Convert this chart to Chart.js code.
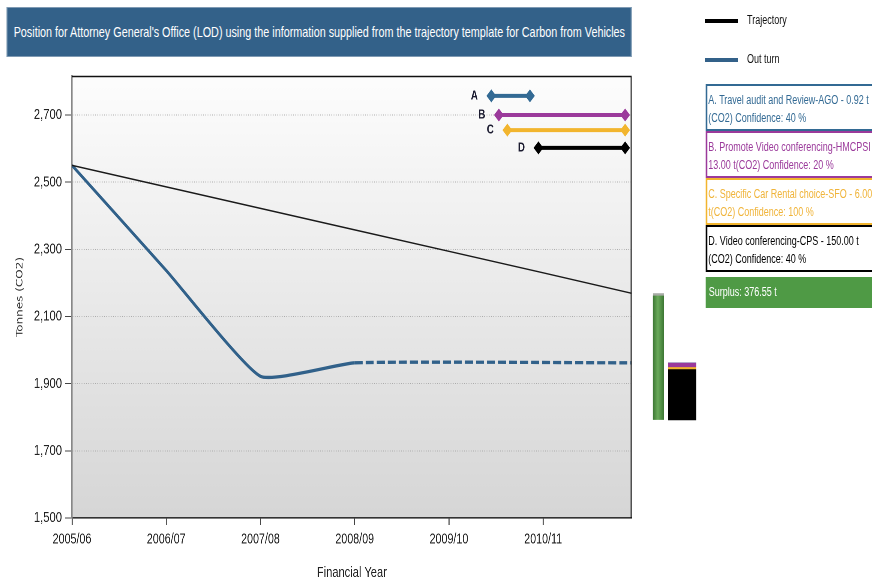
<!DOCTYPE html>
<html><head><meta charset="utf-8">
<script src="https://cdn.jsdelivr.net/npm/chart.js@4/dist/chart.umd.min.js"></script>
<style>
html,body{margin:0;padding:0;background:#fff;overflow:hidden;width:872px;height:582px;}
/* the figure is laid out 1/0.75 wider and squeezed horizontally, giving the narrow lettering of the original */
#wrap{position:absolute;left:0;top:0;width:1163px;height:582px;transform:scaleX(0.75);transform-origin:0 0;font-family:"Liberation Sans",Arial,sans-serif;}
#title{position:absolute;left:9.3px;top:7px;width:833px;height:50px;background:#336189;color:#fff;font-size:14.4px;line-height:49px;text-align:center;box-sizing:border-box;border:1px solid #7f9ab3;white-space:nowrap;}
#main{position:absolute;left:0;top:0;width:853px;height:582px;}
#side{position:absolute;left:850.3px;top:76px;width:86.7px;height:442px;}
.leg{position:absolute;left:940px;font-size:12px;color:#111;line-height:14px;white-space:nowrap;}
.leg i{display:inline-block;width:44px;height:4px;vertical-align:middle;margin-right:12px;}
.box{position:absolute;left:941px;width:260px;height:47px;box-sizing:border-box;border-style:solid;border-width:2px 2px 2px 2.7px;padding:5px 0 0 1.4px;font-size:12px;line-height:18.3px;white-space:nowrap;background:#fff;}
#surplus{position:absolute;left:941px;top:277px;width:260px;height:31px;background:#4f9a45;color:#fff;font-size:12px;line-height:31px;padding-left:4px;box-sizing:border-box;white-space:nowrap;}
</style></head>
<body>
<div id="wrap">
<div id="title"></div>
<div id="main"><canvas id="c1"></canvas></div>
<div id="side"><canvas id="c2"></canvas></div>
<div class="leg" style="top:13px"><i style="background:#000"></i><span id="l1"></span></div>
<div class="leg" style="top:52px"><i style="background:#336189"></i><span id="l2"></span></div>
<div id="boxes"></div>
<div id="surplus"></div>
</div>
<script>
const chartTitle = "Position for Attorney General's Office (LOD) using the information supplied from the trajectory template for Carbon from Vehicles";
const categories = ['2005/06','2006/07','2007/08','2008/09','2009/10','2010/11'];
const xAxisEnd = 5.94;
const yTicks = [1500,1700,1900,2100,2300,2500,2700];
const yMin = 1500, yMax = 2816;
const seriesNames = ['Trajectory','Out turn'];
const trajectory = [2550,2486,2422,2358,2294,2230];
const trajectoryEnd = 2169;
const outturn = [2550,2237,1922,1962];
const outturnProjected = 1962;
const measureLabels = ['A','B','C','D'];
const measureNames = ['Travel audit and Review-AGO','Promote Video conferencing-HMCPSI','Specific Car Rental choice-SFO','Video conferencing-CPS'];
const measureSaving = [0.92,13.00,6.00,150.00];
const measureConfidence = [40,20,100,40];
const measureStart = [4.45,4.53,4.62,4.95];
const measureEnd = [4.86,5.87,5.87,5.87];
const measureRow = [2757,2700,2655,2602];
const surplus = 376.55;

const measureColors = ['#336a94','#9b3a9b','#f2b52e','#000000'];
const boxText = ['#336a94','#9b3a9b','#f0b43a','#000000'];
const SANS = '"Liberation Sans",Arial,sans-serif';

document.getElementById('title').textContent = chartTitle;
document.getElementById('l1').textContent = seriesNames[0];
document.getElementById('l2').textContent = seriesNames[1];
// info boxes (line breaks as in the original)
const breaks = [[' t(',' t<br>('],[' - 13',' -<br>13'],[' 6.00 t(',' 6.00<br>t('],[' t(',' t<br>(']];
const boxes = document.getElementById('boxes');
measureLabels.forEach((l,i)=>{
  const d = document.createElement('div');
  d.className = 'box';
  d.style.top = (84 + i*47) + 'px';
  d.style.borderColor = measureColors[i];
  d.style.color = boxText[i];
  let s = l + '. ' + measureNames[i] + ' - ' + measureSaving[i].toFixed(2) + ' t(CO2) Confidence: ' + measureConfidence[i] + ' %';
  s = s.replace(breaks[i][0], breaks[i][1]);
  d.innerHTML = s;
  boxes.appendChild(d);
});
document.getElementById('surplus').textContent = 'Surplus: ' + surplus.toFixed(2) + ' t';

const bgPlugin = {
  id:'bg',
  beforeDraw(chart){
    const a = chart.chartArea, ctx = chart.ctx;
    const g = ctx.createLinearGradient(0,a.top,0,a.bottom);
    g.addColorStop(0,'#fdfdfd'); g.addColorStop(1,'#d6d6d6');
    ctx.save(); ctx.fillStyle = g; ctx.fillRect(a.left,a.top,a.right-a.left,a.bottom-a.top); ctx.restore();
  },
  afterDatasetsDraw(chart){
    const a = chart.chartArea, ctx = chart.ctx;
    ctx.save(); ctx.strokeStyle = '#111'; ctx.lineWidth = 1.4;
    ctx.beginPath(); ctx.moveTo(a.left,a.top+0.5); ctx.lineTo(a.right-0.8,a.top+0.5); ctx.lineTo(a.right-0.8,a.bottom); ctx.stroke();
    ctx.font = 'bold 13px ' + SANS; ctx.fillStyle = '#1b1b30'; ctx.textAlign = 'center'; ctx.textBaseline = 'middle';
    chart.data.datasets.forEach((ds,i)=>{
      if (!ds.letter) return;
      const p = chart.getDatasetMeta(i).data[0];
      ctx.fillText(ds.letter, p.x - 22.7, p.y);
    });
    ctx.restore();
  }
};

const xy = (arr)=>arr.map((v,i)=>({x:i,y:v}));
const lastActual = outturn.length - 1;
const datasets = [
  {label:seriesNames[0], data: xy(trajectory).concat([{x:xAxisEnd,y:trajectoryEnd}]), borderColor:'#1a1a1a', borderWidth:1.5, pointRadius:0, tension:0},
  {label:seriesNames[1], data: xy(outturn).concat([{x:xAxisEnd,y:outturnProjected}]), borderColor:'#31618a', borderWidth:3.3, pointRadius:0, tension:0.15,
    borderCapStyle:'butt',
    segment:{borderDash:(c)=> c.p0DataIndex >= lastActual ? [10.7,4] : undefined}}
];
measureLabels.forEach((l,i)=>{
  datasets.push({label:l, letter:l, data:[{x:measureStart[i],y:measureRow[i]},{x:measureEnd[i],y:measureRow[i]}],
    borderColor:measureColors[i], backgroundColor:measureColors[i], borderWidth:4,
    pointStyle:'rectRot', pointRadius:6.5, pointBorderWidth:0, pointBackgroundColor:measureColors[i]});
});

new Chart(document.getElementById('c1'), {
  type:'line',
  data:{datasets},
  plugins:[bgPlugin],
  options:{
    responsive:true, maintainAspectRatio:false, animation:false, devicePixelRatio:2,
    layout:{padding:{top:76,right:10.7,left:0,bottom:0}},
    plugins:{legend:{display:false}, tooltip:{enabled:false}},
    scales:{
      x:{type:'linear', min:0, max:xAxisEnd,
        afterBuildTicks(s){ s.ticks = categories.map((c,i)=>({value:i})); },
        afterFit(s){ s.height = 64; },
        ticks:{callback:(v)=>categories[v], color:'#222', font:{family:SANS,size:14.3}, padding:6, maxRotation:0, autoSkip:false},
        grid:{drawOnChartArea:false, drawTicks:true, tickLength:7, tickColor:'#444', lineWidth:1.4},
        border:{color:'#333', width:1.6},
        title:{display:true, text:'Financial Year', color:'#222', font:{family:SANS,size:14.8}, padding:{top:4,bottom:0}}
      },
      y:{min:yMin, max:yMax,
        afterBuildTicks(s){ s.ticks = yTicks.map(v=>({value:v})); },
        afterFit(s){ s.width = 96; },
        ticks:{callback:(v)=>v.toLocaleString('en-US'), color:'#222', font:{family:SANS,size:15}, padding:4},
        grid:{color:'#a8a8a8', lineWidth:1, tickLength:9.3, tickColor:'#444', drawTicks:true},
        border:{color:'#888', width:1.8, dash:[1,2]},
        title:{display:true, text:'Tonnes (CO2)', color:'#333', font:{family:'"DejaVu Sans",sans-serif',size:12}, padding:{top:19.5,bottom:0}}
      }
    }
  }
});

// right-hand surplus / savings bars (floating, on the same value range)
const totalSaving = measureSaving.reduce((a,b)=>a+b,0);
const base = outturnProjected - totalSaving;
const GREEN_W = 14.7, STACK_W = 37.3;
const greenFill = (c)=>{
  const ch = c.chart;
  if (!ch.chartArea) return '#55974a';
  const cx = ch.scales.x.getPixelForValue(0);
  const g = ch.ctx.createLinearGradient(cx - GREEN_W/2, 0, cx + GREEN_W/2, 0);
  g.addColorStop(0,'#3d7734'); g.addColorStop(0.45,'#6aab5b'); g.addColorStop(1,'#3d7734');
  return g;
};
const sideSets = [{label:'Surplus', data:[[base, base+surplus], null], backgroundColor:greenFill, borderColor:'#a7aba5',
  borderWidth:{top:2.5,left:0,right:0,bottom:0}, borderSkipped:false, barThickness:GREEN_W, stack:'s', clip:false}];
let cum = base;
[3,2,1,0].forEach(i=>{
  sideSets.push({label:measureLabels[i], data:[null,[cum, cum+measureSaving[i]]], backgroundColor:measureColors[i], borderWidth:0, barThickness:STACK_W, stack:'s', clip:false});
  cum += measureSaving[i];
});
new Chart(document.getElementById('c2'), {
  type:'bar',
  data:{labels:['Surplus','Savings'], datasets:sideSets},
  options:{
    responsive:true, maintainAspectRatio:false, animation:false, devicePixelRatio:2,
    layout:{padding:{left:12,right:12,top:0,bottom:0}},
    plugins:{legend:{display:false}, tooltip:{enabled:false}},
    scales:{x:{display:false}, y:{display:false, stacked:false, min:yMin, max:yMax}}
  }
});
</script>
</body></html>
